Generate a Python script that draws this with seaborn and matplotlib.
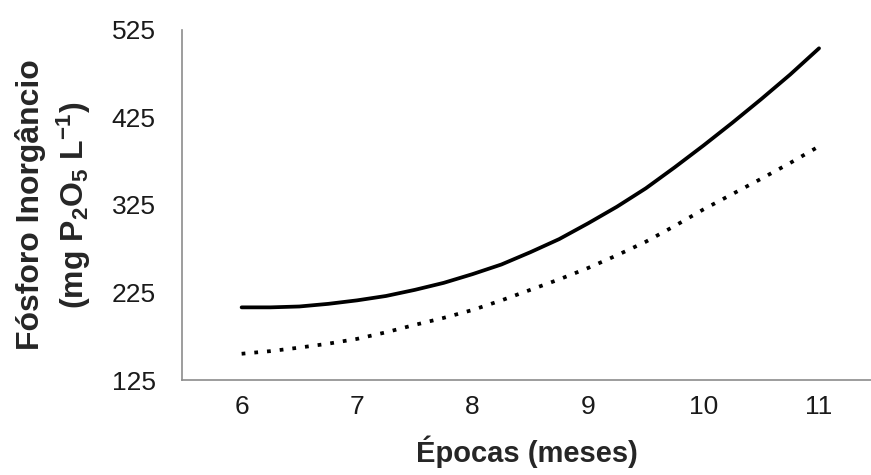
import numpy as np
import pandas as pd
import seaborn as sns
import matplotlib
matplotlib.use('Agg')
import matplotlib.pyplot as plt

# valores (meses x P inorgânico)
meses = [6, 6.25, 6.5, 6.75, 7, 7.25, 7.5, 7.75, 8, 8.25, 8.5,
         8.75, 9, 9.25, 9.5, 9.75, 10, 10.25, 10.5, 10.75, 11]
p_solido = [208, 208, 209, 212, 216, 221, 228, 236, 246, 257, 271,
            286, 304, 323, 344, 368, 393, 419, 446, 474, 504]
p_pontilhado = [155, 158, 162, 166.5, 172, 179.5, 188, 196, 205, 216, 228,
                240, 253, 267.5, 283, 301, 320, 337.5, 355, 373, 392]
xticklabels = ['6', '7', '8', '9', '10', '11']
yticks = [125, 225, 325, 425, 525]

df = pd.DataFrame({
    'mes': meses * 2,
    'P': p_solido + p_pontilhado,
    'serie': ['a'] * len(meses) + ['b'] * len(meses),
})

sns.set_style('white')
plt.rcParams['font.family'] = ['Liberation Sans', 'DejaVu Sans']
plt.rcParams['mathtext.fontset'] = 'custom'
plt.rcParams['mathtext.rm'] = 'Liberation Sans:bold'
plt.rcParams['mathtext.it'] = 'Liberation Sans:bold'
plt.rcParams['mathtext.bf'] = 'Liberation Sans:bold'

fig = plt.figure(figsize=(8.71, 4.75), dpi=100)
ax = fig.add_axes([0.209, 0.2, 0.791, 0.737])

sns.lineplot(data=df, x='mes', y='P', style='serie', color='black',
             dashes={'a': '', 'b': (1, 2.4)}, linewidth=2.7,
             legend=False, ax=ax)

ax.set_xlim(5.484, 11.45)
ax.set_ylim(125, 525)

gray = '#8c8c8c'
for s in ['top', 'right']:
    ax.spines[s].set_visible(False)
for s in ['left', 'bottom']:
    ax.spines[s].set_color(gray)
    ax.spines[s].set_linewidth(1.2)

ax.set_yticks(yticks)
ax.set_yticks([175, 275, 375, 475], minor=True)
ax.tick_params(axis='y', which='major', direction='inout', length=10, width=1,
               color=gray, labelsize=19, labelcolor='#1a1a1a', pad=14)
ax.tick_params(axis='y', which='minor', direction='inout', length=6, width=1,
               color=gray)

# x: marcas entre os meses, rótulos nos meses
ax.set_xticks([5.5, 6.5, 7.5, 8.5, 9.5, 10.5])
ax.set_xticklabels([''] * 6)
ax.set_xticks([6, 7, 8, 9, 10, 11], minor=True)
ax.set_xticklabels(xticklabels, minor=True)
ax.tick_params(axis='x', which='major', direction='out', length=8, width=1,
               color=gray)
ax.tick_params(axis='x', which='minor', length=0, labelsize=19,
               labelcolor='#1a1a1a', pad=11)

ax.set_xlabel('Épocas (meses)', fontsize=21, fontweight='bold', labelpad=12)
ax.set_ylabel('Fósforo Inorgâncio\n(mg P$_2$O$_5$ L$^{-1}$)', fontsize=23,
              fontweight='bold', linespacing=1.3, labelpad=13)

fig.savefig('out.png', dpi=100)
